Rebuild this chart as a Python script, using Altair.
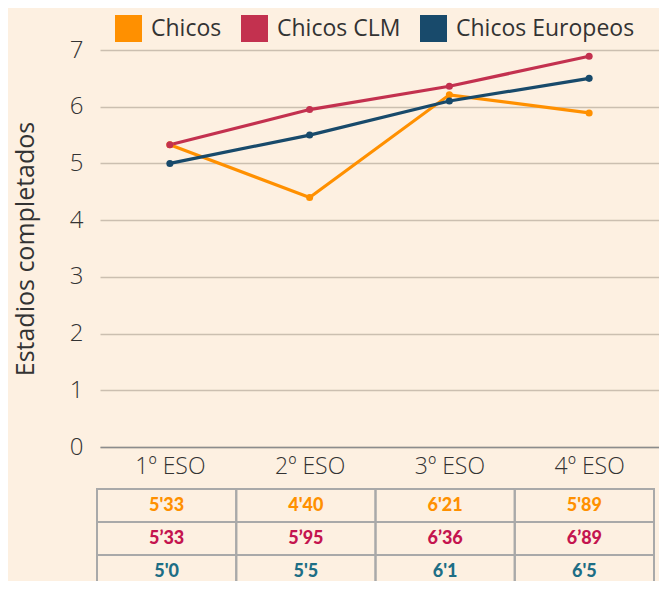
import altair as alt
import pandas as pd

cursos = ["1º ESO", "2º ESO", "3º ESO", "4º ESO"]
series = ["Chicos", "Chicos CLM", "Chicos Europeos"]
chicos = [5.33, 4.40, 6.21, 5.89]
chicos_clm = [5.33, 5.95, 6.36, 6.89]
chicos_eur = [5.0, 5.5, 6.1, 6.5]
line_colors = ["#ff9000", "#c3314f", "#184a6b"]

tabla_chicos = ["5'33", "4'40", "6'21", "5'89"]
tabla_clm = ["5’33", "5’95", "6’36", "6’89"]
tabla_eur = ["5'0", "5'5", "6'1", "6'5"]
text_colors = ["#ff9000", "#c4144f", "#1d6e85"]

rows = []
for s, vals in zip(series, [chicos, chicos_clm, chicos_eur]):
    for c, v in zip(cursos, vals):
        rows.append({"curso": c, "serie": s, "valor": v})
df = pd.DataFrame(rows)

trows = []
for s, texts, col in zip(series, [tabla_chicos, tabla_clm, tabla_eur], text_colors):
    for c, t in zip(cursos, texts):
        trows.append({"curso": c, "fila": s, "texto": t, "color": col})
tdf = pd.DataFrame(trows)

FONT = "Open Sans"

x_enc = alt.X(
    "curso:N", sort=cursos, title=None,
    scale=alt.Scale(type="point", domain=cursos, padding=0.5),
    axis=alt.Axis(labelAngle=0, ticks=False, domain=True, domainColor="#8c8c8c",
                  domainWidth=1.5, grid=False, labelFontSize=23, labelFont=FONT,
                  labelFontWeight=300, labelColor="#333333", labelPadding=8),
)
y_enc = alt.Y(
    "valor:Q", title="Estadios completados",
    scale=alt.Scale(domain=[0, 7], nice=False),
    axis=alt.Axis(values=[0, 1, 2, 3, 4, 5, 6, 7], ticks=False, domain=False,
                  gridColor="#cbbfb0", gridWidth=1.3, labelFontSize=24,
                  labelFont=FONT, labelFontWeight=300, labelColor="#333333",
                  labelPadding=17, titleFont=FONT, titleFontSize=25,
                  titleFontWeight="normal", titleColor="#333333",
                  titleX=-75, titleBaseline="middle"),
)

lines = alt.Chart(df).mark_line(strokeWidth=3.2).encode(
    x=x_enc, y=y_enc,
    color=alt.Color("serie:N", scale=alt.Scale(domain=series, range=line_colors),
                    legend=None),
)
pts = alt.Chart(df).mark_circle(size=50, opacity=1).encode(
    x=x_enc, y=y_enc,
    color=alt.Color(
        "serie:N", scale=alt.Scale(domain=series, range=line_colors),
        legend=alt.Legend(
            title=None, orient="none", legendX=15, legendY=-35,
            direction="horizontal", symbolType="square", symbolSize=729,
            symbolOpacity=1, symbolStrokeWidth=0, labelFont=FONT,
            labelFontSize=23, labelColor="#333333", labelOffset=9,
            columnPadding=19, labelLimit=400,
        ),
    ),
)
plot_group = alt.layer(lines, pts).resolve_scale(color="independent")

tx = alt.X("curso:N", sort=cursos,
           scale=alt.Scale(type="band", domain=cursos, range=[-3, 554],
                           paddingInner=0, paddingOuter=0),
           axis=None)
ty = alt.Y("fila:N", sort=series,
           scale=alt.Scale(type="band", domain=series, range=[439, 538],
                           paddingInner=0, paddingOuter=0),
           axis=None)

cells = alt.Chart(tdf).mark_rect(fill="#fdf0e1", fillOpacity=0, stroke="#a9a9a9",
                                 strokeWidth=2).encode(x=tx, y=ty)
texts = alt.Chart(tdf).mark_text(font="Lato", fontSize=18, fontWeight=900,
                                 baseline="middle").encode(
    x=tx, y=ty, text="texto:N",
    color=alt.Color("color:N", scale=None, legend=None),
)
table_group = alt.layer(cells, texts)

chart = alt.layer(plot_group, table_group).resolve_scale(
    x="independent", y="independent", color="independent"
).properties(
    width=559, height=397,
    autosize=alt.AutoSizeParams(type="none"),
    padding={"left": 92, "top": 42, "right": 0, "bottom": 134},
    background="#fdf0e1",
).configure_view(stroke=None)

chart.save("out.html", embed_options={"renderer": "svg", "actions": False})
